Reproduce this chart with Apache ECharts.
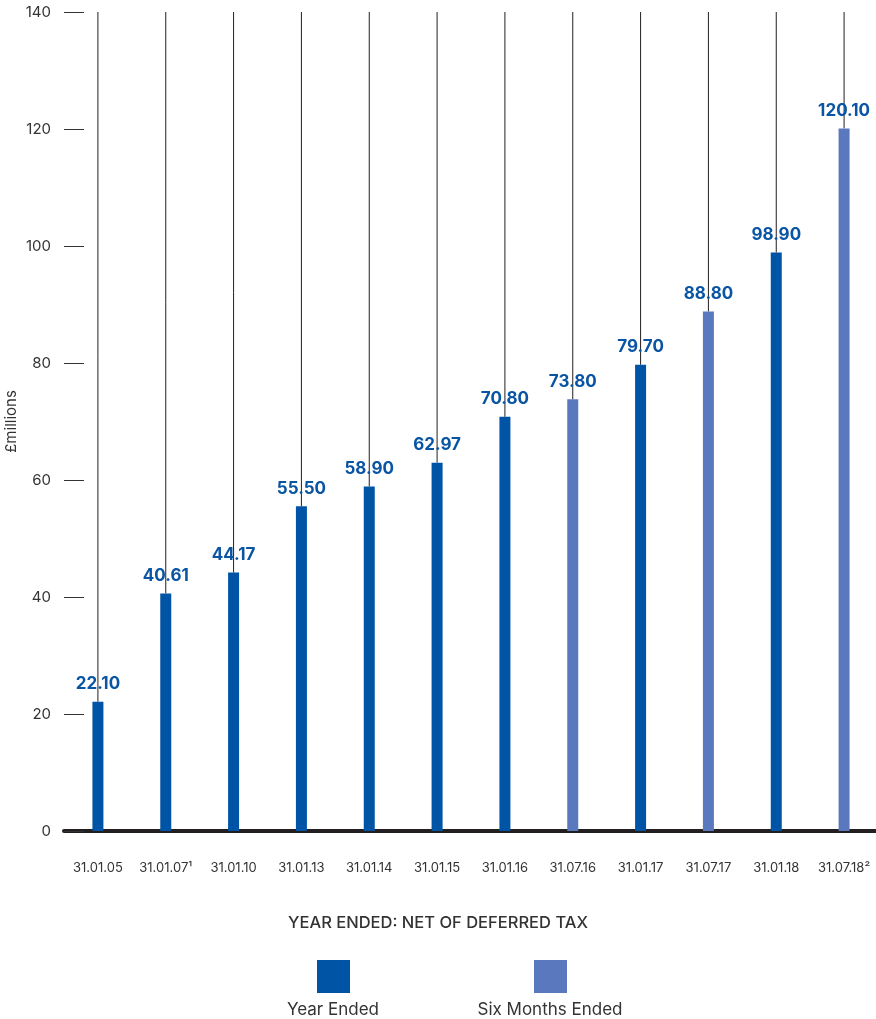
<!DOCTYPE html>
<html>
<head>
<meta charset="utf-8">
<script src="https://cdn.jsdelivr.net/npm/echarts@6/dist/echarts.min.js"></script>
<style>html,body{margin:0;padding:0;background:#fff}#c{width:876px;height:1019px}</style>
</head>
<body>
<div id="c"></div>
<script>
const categories = ['31.01.05','31.01.07¹','31.01.10','31.01.13','31.01.14','31.01.15','31.01.16','31.07.16','31.01.17','31.07.17','31.01.18','31.07.18²'];
const values = [22.10, 40.61, 44.17, 55.50, 58.90, 62.97, 70.80, 73.80, 79.70, 88.80, 98.90, 120.10];
const periodType = ['Y','Y','Y','Y','Y','Y','Y','S','Y','S','Y','S'];
const yTicks = [0, 20, 40, 60, 80, 100, 120, 140];

const yearData = values.map((v, i) => periodType[i] === 'Y' ? v : null);
const sixData = values.map((v, i) => periodType[i] === 'S' ? v : null);
const lineData = values.map((v, i) => [i, v]);

const FONT = 'Inter, "Noto Sans", sans-serif';
const chart = echarts.init(document.getElementById('c'));
const labelOpt = {
  show: true, position: 'top', distance: 9,
  color: '#0a55a3', fontSize: 17, fontWeight: 'bold', fontFamily: FONT,
  formatter: p => p.value == null ? '' : p.value.toFixed(2)
};
chart.setOption({
  animation: false,
  grid: { left: 64, right: -2, top: 12, bottom: 188, containLabel: false, outerBoundsMode: 'none' },
  xAxis: {
    type: 'category', data: categories,
    axisLine: { lineStyle: { color: '#231f20', width: 4 } },
    axisTick: { show: false },
    axisLabel: { color: '#333', fontSize: 13, fontFamily: FONT, margin: 31, interval: 0 }
  },
  yAxis: {
    type: 'value', min: yTicks[0], max: yTicks[yTicks.length - 1], interval: 20,
    name: '£millions', nameLocation: 'middle', nameGap: 45, nameRotate: 90, nameMoveOverlap: false,
    nameTextStyle: { color: '#333', fontSize: 15, fontFamily: FONT },
    axisLine: { show: false },
    axisTick: { show: true, inside: true, length: 20, lineStyle: { color: '#333', width: 1 } },
    axisLabel: { color: '#333', fontSize: 15, fontFamily: FONT, margin: 13 },
    splitLine: { show: false }
  },
  legend: [
    { data: ['Year Ended'], left: 312, top: 955, itemWidth: 33, itemHeight: 33, icon: 'rect', formatter: () => '', selectedMode: false },
    { data: ['Six Months Ended'], left: 529, top: 955, itemWidth: 33, itemHeight: 33, icon: 'rect', formatter: () => '', selectedMode: false }
  ],
  graphic: [
    { type: 'text', left: 'center', top: 915, style: { text: 'YEAR ENDED: NET OF DEFERRED TAX', fill: '#333', font: '500 16.5px ' + FONT } },
    { type: 'text', x: 333, y: 1001, style: { text: 'Year Ended', fill: '#333', font: '17px ' + FONT, textAlign: 'center' } },
    { type: 'text', x: 550, y: 1001, style: { text: 'Six Months Ended', fill: '#333', font: '17px ' + FONT, textAlign: 'center' } }
  ],
  series: [
    {
      type: 'custom', z: 1, silent: true,
      data: lineData,
      renderItem: (params, api) => {
        const top = api.coord([api.value(0), 140]);
        const bot = api.coord([api.value(0), api.value(1)]);
        return { type: 'line', shape: { x1: top[0], y1: top[1], x2: bot[0], y2: bot[1] }, style: { stroke: '#231f20', lineWidth: 1 } };
      }
    },
    { name: 'Year Ended', type: 'bar', data: yearData, barWidth: 11, barGap: '-100%', z: 2, itemStyle: { color: '#0054a6' }, label: labelOpt },
    { name: 'Six Months Ended', type: 'bar', data: sixData, barWidth: 11, barGap: '-100%', z: 2, itemStyle: { color: '#5a78bd' }, label: labelOpt }
  ]
});
</script>
</body>
</html>
